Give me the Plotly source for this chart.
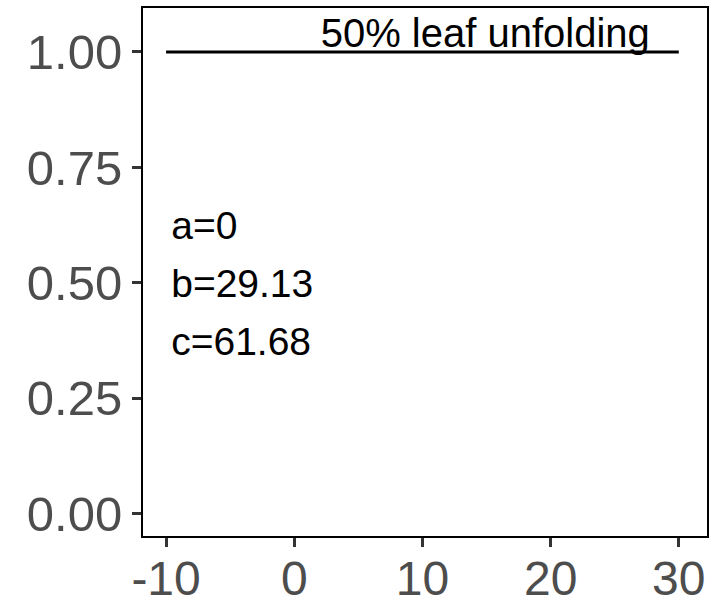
import plotly.graph_objects as go

# data
line_x = [-10, 30]
line_y = [1, 1]
label_text = "50% leaf unfolding"
label_x = 14.9
label_y = 1.032
param_labels = ["a=0", "b=29.13", "c=61.68"]
param_x = [-9.6, -9.6, -9.6]
param_y = [0.616, 0.491, 0.366]
x_ticks = [-10, 0, 10, 20, 30]
y_ticks = [0.00, 0.25, 0.50, 0.75, 1.00]
y_ticklabels = ["0.00", "0.25", "0.50", "0.75", "1.00"]

fig = go.Figure()
fig.add_trace(go.Scatter(x=line_x, y=line_y, mode="lines",
                         line=dict(color="black", width=3), showlegend=False,
                         hoverinfo="skip"))
fig.add_trace(go.Scatter(x=[label_x], y=[label_y], mode="text", text=[label_text],
                         textposition="middle center",
                         textfont=dict(family="Liberation Sans", size=40, color="black"),
                         showlegend=False, hoverinfo="skip"))
fig.add_trace(go.Scatter(x=param_x, y=param_y, mode="text", text=param_labels,
                         textposition="middle right",
                         textfont=dict(family="Liberation Sans", size=39, color="black"),
                         showlegend=False, hoverinfo="skip"))

fig.update_layout(
    width=719, height=606,
    margin=dict(l=143, r=12, t=8, b=70),
    paper_bgcolor="white", plot_bgcolor="white",
    font=dict(family="Liberation Sans"),
)
fig.update_xaxes(range=[-11.8, 32.2], tickvals=x_ticks, ticktext=[str(v) for v in x_ticks],
                 showgrid=False, zeroline=False, showline=True, mirror=True,
                 linecolor="black", linewidth=2, ticks="outside", ticklen=9,
                 tickwidth=2.5, tickcolor="#333333", automargin=False,
                 ticklabelstandoff=-10,
                 tickfont=dict(family="Liberation Sans", size=48, color="#4D4D4D"))
fig.update_yaxes(range=[-0.048, 1.095], tickvals=y_ticks, ticktext=y_ticklabels,
                 showgrid=False, zeroline=False, showline=True, mirror=True,
                 linecolor="black", linewidth=2, ticks="outside", ticklen=9,
                 tickwidth=2.5, tickcolor="#333333", automargin=False,
                 tickfont=dict(family="Liberation Sans", size=49, color="#4D4D4D"))

fig.write_html("out.html")
